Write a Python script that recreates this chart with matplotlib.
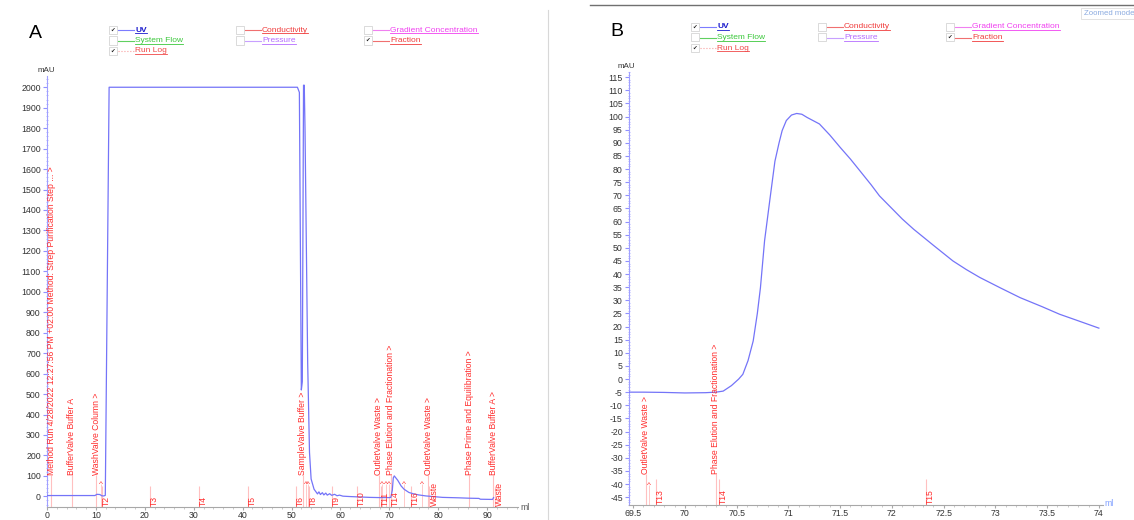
import matplotlib
matplotlib.use('Agg')
import matplotlib.pyplot as plt
import matplotlib.transforms as mtransforms
from matplotlib.lines import Line2D
from matplotlib.patches import Rectangle
from matplotlib.ticker import MultipleLocator

plt.rcParams['font.family'] = ['Liberation Sans', 'DejaVu Sans']
plt.rcParams['axes.unicode_minus'] = False

W, H = 1134, 520

# panel A: whole run (ml, mAU)
a_ml = [0, 5, 9.8, 10.2, 10.8, 11.2, 11.6, 11.92, 12.18, 12.7, 51.2, 51.6,
        52.0, 52.2, 52.45, 52.6, 52.75, 53.3, 53.67, 54.0, 54.6, 55.0, 55.3,
        55.6, 55.9, 56.3, 56.6, 57.0, 57.3, 57.8, 58.2, 58.8, 59.3, 59.8,
        60.5, 62, 64, 66, 68, 70.0, 70.3, 70.6, 70.8, 71.0, 71.7, 72.4, 73.0,
        74.0, 75.0, 76.0, 77.5, 80.9, 84, 86.3, 88.3, 88.6, 91.1, 91.3]
a_mau = [4, 4, 4, 10, 9, 3, 2, 5, 670, 2000, 2000, 1975,
         520, 560, 2010, 2010, 1800, 650, 215, 85, 35, 22, 12,
         22, 9, 18, 7, 16, 6, 13, 5, 10, 3, 6,
         1, -1, -3, -5, -6, -6, -5, 30, 90, 100, 79, 51, 35,
         19, 12, 7, 2, -5, -7, -9, -10, -14, -15, -6]

a_log_ml = [0.9, 5.1, 10.1, 52.3, 67.8, 70.3, 77.9, 86.3, 91.2]
a_log_text = ["Method Run 4/28/2022 12:27:56 PM +02:00 Method: Strep Purification Step ... >",
              "BufferValve Buffer A", "WashValve Column >", "SampleValve Buffer >",
              "OutletValve Waste >", "Phase Elution and Fractionation >",
              "OutletValve Waste >", "Phase Prime and Equilibration >",
              "BufferValve Buffer A >"]
a_caret_ml = [11.0, 53.0, 53.3, 68.5, 69.3, 70.0, 72.9, 76.7]
a_frac_ml = [11.3, 21.1, 31.1, 41.0, 50.9, 53.5, 58.3, 63.3, 68.2, 70.3, 74.4, 78.2, 91.5]
a_frac_text = ["T2", "T3", "T4", "T5", "T6", "T8", "T9", "T10", "T11", "T14", "T16",
               "Waste", "Waste"]

# panel B: zoom on the elution peak (ml, mAU)
b_ml = [69.46, 69.6, 69.8, 70.0, 70.2, 70.3, 70.37, 70.45, 70.52, 70.56, 70.61,
        70.66, 70.70, 70.73, 70.77, 70.82, 70.87, 70.91, 70.94, 70.98, 71.03,
        71.08, 71.13, 71.18, 71.30, 71.40, 71.50, 71.60, 71.69, 71.80, 71.88,
        72.00, 72.10, 72.21, 72.40, 72.59, 72.72, 72.85, 73.05, 73.24, 73.45,
        73.62, 73.80, 74.00]
b_mau = [-5.0, -5.0, -5.1, -5.3, -5.2, -5.0, -4.6, -2.5, 0.0, 1.8, 7,
         14.5, 25, 34.8, 52.7, 68, 83, 90, 94.7, 98.5, 100.6,
         101.2, 100.9, 99.7, 97.2, 93, 88.3, 83.8, 79.4, 74, 69.8,
         65, 61, 57.1, 51, 45, 41.7, 38.7, 34.7, 31, 27.6,
         24.7, 22.2, 19.4]
b_log_ml = [69.62, 70.30]
b_log_text = ["OutletValve Waste >", "Phase Elution and Fractionation >"]
b_caret_ml = [69.65]
b_frac_ml = [69.72, 70.33, 72.33]
b_frac_text = ["T13", "T14", "T15"]

legend_text = ["UV", "Conductivity", "Gradient Concentration",
               "System Flow", "Pressure", "Fraction", "Run Log"]
legend_color = ["#1a1acc", "#f03c3c", "#f040f0", "#3cc83c", "#b46cff", "#f03c3c", "#f04848"]
legend_line = ["#7c7cff", "#f07070", "#f080f0", "#60d060", "#c8a0ff", "#f07070", "#f8a0a0"]
legend_checked = [True, False, False, False, False, True, True]

UV = "#7474f8"
RED = "#ff2c2c"
PINK = "#ffc0c0"

fig = plt.figure(figsize=(W / 100, H / 100), dpi=100)


def fx(x):
    return x / W


def fy(y):
    return 1 - y / H


def style(ax, xlim, ylim, xmaj, xmin, ymaj, ymin):
    ax.set_xlim(*xlim)
    ax.set_ylim(*ylim)
    for s in ['top', 'right']:
        ax.spines[s].set_visible(False)
    ax.spines['left'].set_color('#a0a0ff')
    ax.spines['bottom'].set_color('#a8a8a8')
    ax.xaxis.set_major_locator(MultipleLocator(xmaj))
    ax.xaxis.set_minor_locator(MultipleLocator(xmin))
    ax.yaxis.set_major_locator(MultipleLocator(ymaj))
    ax.yaxis.set_minor_locator(MultipleLocator(ymin))
    ax.tick_params(axis='y', which='major', length=3, color='#9090ff',
                   labelsize=6.3, labelcolor='#333333', pad=1.5)
    ax.tick_params(axis='y', which='minor', length=2, color='#b0b0ff', direction='inout')
    ax.tick_params(axis='x', which='major', length=2, color='#a8a8a8',
                   labelsize=6.3, labelcolor='#333333', pad=1)
    ax.tick_params(axis='x', which='minor', length=1.2, color='#c0c0c0')
    ax.set_facecolor('none')


def markers(ax, ybot, log_ml, log_text, log_y, caret_ml, caret_y, frac_ml, frac_text, frac_top):
    for x, t in zip(log_ml, log_text):
        ax.vlines(x, ybot, log_y, color=PINK, lw=0.8)
        ax.text(x, log_y, t, rotation=90, ha='center', va='bottom',
                fontsize=6.2, color=RED)
    for x in caret_ml:
        ax.vlines(x, ybot, caret_y, color=PINK, lw=0.6)
        ax.text(x, caret_y, "^", ha='center', va='center', fontsize=6, color=RED)
    shift = mtransforms.offset_copy(ax.transData, fig=fig, x=4.5, y=1, units='dots')
    for x, t in zip(frac_ml, frac_text):
        ax.vlines(x, ybot, frac_top, color=PINK, lw=0.8)
        ax.text(x, ybot, t, rotation=90, ha='center', va='bottom',
                fontsize=6.2, color=RED, transform=shift)


# ---- panel A ----
axA = fig.add_axes([fx(47), fy(507), fx(518 - 47), (507 - 76) / H])
style(axA, (0, 96.3), (-52, 2055), 10, 2, 100, 20)
axA.plot(a_ml, a_mau, color=UV, lw=0.9, zorder=3)
markers(axA, -52, a_log_ml, a_log_text, 105, a_caret_ml, 60, a_frac_ml, a_frac_text, 50)

# ---- panel B ----
axB = fig.add_axes([fx(629), fy(505), fx(1103 - 629), (505 - 72) / H])
style(axB, (69.46, 74.04), (-48, 117), 0.5, 0.1, 5, 1)
axB.xaxis.set_major_formatter(plt.FuncFormatter(lambda v, p: f"{v:g}"))
axB.plot(b_ml, b_mau, color=UV, lw=0.9, zorder=3)
markers(axB, -48, b_log_ml, b_log_text, -36, b_caret_ml, -40.5, b_frac_ml, b_frac_text, -38)

# axis unit labels
fig.text(fx(46), fy(70), "mAU", fontsize=5.8, color='#333333', ha='center', va='center')
fig.text(fx(626), fy(67), "mAU", fontsize=5.8, color='#333333', ha='center', va='center')
fig.text(fx(520), fy(507), "ml", fontsize=6.3, color='#555555', ha='left', va='center')
fig.text(fx(1104), fy(504), "ml", fontsize=6.3, color='#7f9fff', ha='left', va='center')

# panel letters
fig.text(fx(35), fy(34), "A", fontsize=14, ha='center', va='center')
fig.text(fx(617), fy(31), "B", fontsize=14, ha='center', va='center')

# frame lines and "Zoomed mode" tag
fig.add_artist(Line2D([fx(548), fx(548)], [fy(10), fy(520)], color='#d8d8d8', lw=0.8))
fig.add_artist(Line2D([fx(590), fx(1134)], [fy(5), fy(5)], color='#707070', lw=1.0))
fig.add_artist(Rectangle((fx(1081), fy(19)), fx(60), 11 / H, facecolor='white',
                         edgecolor='#dddddd', lw=0.6))
fig.text(fx(1084), fy(13.5), "Zoomed mode", fontsize=5.6, color='#8aaae0', va='center')

# legends
texts = []
for x0, y0 in [(109, 30), (691, 27)]:
    cols = [x0, x0 + 127, x0 + 255]
    slots = [(0, 0), (1, 0), (2, 0), (0, 1), (1, 1), (2, 1), (0, 2)]
    for i, (c, r) in enumerate(slots):
        cx = cols[c]
        cy = y0 + r * 10.5
        fig.add_artist(Rectangle((fx(cx), fy(cy + 4)), 8 / W, 8 / H, facecolor='white',
                                 edgecolor='#d4d4d4', lw=0.6))
        if legend_checked[i]:
            fig.text(fx(cx + 4), fy(cy), "\u2714", fontsize=4, ha='center', va='center',
                     color='#222222')
        ls = ':' if legend_text[i] == "Run Log" else '-'
        fig.add_artist(Line2D([fx(cx + 9), fx(cx + 25)], [fy(cy), fy(cy)],
                              color=legend_line[i], lw=0.8, ls=ls))
        t = fig.text(fx(cx + 26), fy(cy), legend_text[i], fontsize=6,
                     color=legend_color[i], va='center', ha='left',
                     fontweight='bold' if legend_text[i] == "UV" else 'normal')
        texts.append(t)

fig.canvas.draw()
r = fig.canvas.get_renderer()
for t in texts:
    bb = t.get_window_extent(r)
    fig.add_artist(Line2D([bb.x0 / W, bb.x1 / W], [(bb.y0 + 0.5) / H, (bb.y0 + 0.5) / H],
                          color=t.get_color(), lw=0.6))

fig.savefig("out.png", dpi=100)
